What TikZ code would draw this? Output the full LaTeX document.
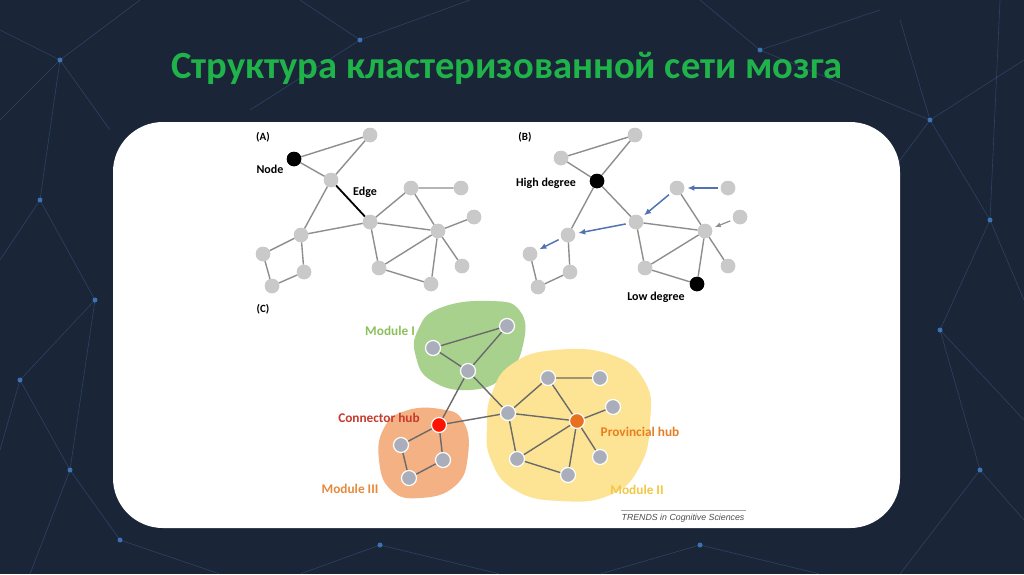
\documentclass[tikz,border=0pt]{standalone}
\usepackage{fontspec}
\setmainfont{Carlito}
\newfontfamily\arialf{Liberation Sans}
\usetikzlibrary{arrows.meta}
\definecolor{bgc}{HTML}{1A2538}
\definecolor{bgline}{HTML}{3C5A86}
\definecolor{glow}{HTML}{4A8FE0}
\definecolor{titleg}{HTML}{1FB34A}
\definecolor{gnode}{HTML}{C9C9C9}
\definecolor{gedge}{HTML}{8E8E8E}
\definecolor{cnode}{HTML}{A9AEBA}
\definecolor{cedge}{HTML}{6A6A6A}
\definecolor{arrb}{HTML}{4F74B0}
\definecolor{modI}{HTML}{A9D18E}
\definecolor{modII}{HTML}{FDE494}
\definecolor{modIII}{HTML}{F4B183}
\definecolor{labI}{HTML}{8DC05C}
\definecolor{labII}{HTML}{F2C744}
\definecolor{labIII}{HTML}{E58A3C}
\definecolor{labhub}{HTML}{C8392C}
\definecolor{labprov}{HTML}{E67E22}
\begin{document}
\begin{tikzpicture}[x=1pt,y=-1pt,
  gn/.style={circle,fill=gnode,inner sep=0pt,minimum size=14.5pt},
  bn/.style={circle,fill=black,inner sep=0pt,minimum size=14.5pt},
  cn/.style={circle,fill=cnode,draw=white,line width=1.2pt,inner sep=0pt,minimum size=15pt},
  ge/.style={draw=gedge,line width=1.4pt},
  ce/.style={draw=cedge,line width=1.4pt},
  barr/.style={draw=arrb,line width=1.5pt,-{Latex[length=7pt,width=6pt]},shorten >=3pt,shorten <=3pt},
  garr/.style={draw=gedge,line width=1.2pt,-{Latex[length=6pt,width=5pt]},shorten >=3pt,shorten <=3pt},
  lab/.style={font=\bfseries\fontsize{12}{14}\selectfont,inner sep=0pt},
  mlab/.style={font=\bfseries\fontsize{13.3}{15}\selectfont,inner sep=0pt}]
\useasboundingbox (0,0) rectangle (1024,574);
% background
\fill[bgc] (0,0) rectangle (1024,574);
\begin{scope}[draw=bgline,line width=0.6pt,opacity=0.55]
\draw (0,120)--(60,60)--(140,0);
\draw (60,60)--(40,200)--(0,260);
\draw (40,200)--(95,300)--(20,380)--(0,450);
\draw (95,300)--(70,470)--(30,574);
\draw (70,470)--(120,540)--(220,574);
\draw (20,380)--(70,470);
\draw (0,30)--(60,60)--(110,130);
\draw (300,0)--(360,40)--(470,0);
\draw (360,40)--(250,110);
\draw (700,0)--(760,50)--(880,10);
\draw (760,50)--(930,120)--(1024,60);
\draw (930,120)--(990,220)--(1024,300);
\draw (990,220)--(940,330)--(1024,420);
\draw (940,330)--(980,470)--(1024,520);
\draw (980,470)--(900,574);
\draw (900,20)--(930,120);
\draw (1000,0)--(990,220);
\draw (930,120)--(870,200);
\draw (600,574)--(700,545)--(820,574);
\draw (300,574)--(380,545)--(500,574);
\end{scope}
\foreach \p in {(60,60),(40,200),(95,300),(20,380),(70,470),(360,40),(760,50),(930,120),(990,220),(940,330),(980,470),(700,545),(380,545),(120,540)}
  \fill[glow,opacity=0.7] \p circle (2.5pt);
% title
\node[font=\bfseries\fontsize{38.5}{44}\selectfont,text=titleg,inner sep=0pt] (title) at (507,68) {Структура кластеризованной сети мозга};
% white panel
\fill[white,rounded corners=50pt] (113,122) rectangle (900,528);
% ---------- Panel A ----------
\node[lab,font=\bfseries\fontsize{11}{13}\selectfont] (la) at (263,137) {(A)};
\node[gn] (a1) at (370,135) {};
\node[bn] (a2) at (294,159) {};
\node[gn] (a3) at (331,180) {};
\node[gn] (a4) at (370,222) {};
\node[gn] (a5) at (411,188) {};
\node[gn] (a6) at (461,188) {};
\node[gn] (a7) at (438,231) {};
\node[gn] (a8) at (474,217) {};
\node[gn] (a9) at (462,266) {};
\node[gn] (a10) at (379,268) {};
\node[gn] (a11) at (431,284) {};
\node[gn] (a12) at (301,235) {};
\node[gn] (a13) at (263,254) {};
\node[gn] (a14) at (304,272) {};
\node[gn] (a15) at (272,286) {};
\node[lab] (nodel) at (270,169) {Node};
\node[lab] (edgel) at (365,192) {Edge};
\draw[ge] (a2)--(a1) (a2)--(a3) (a3)--(a1) (a3)--(a12) (a4)--(a12) (a4)--(a5)
  (a5)--(a6) (a5)--(a7) (a4)--(a7) (a7)--(a8) (a7)--(a9) (a7)--(a10) (a7)--(a11)
  (a4)--(a10) (a10)--(a11) (a12)--(a13) (a12)--(a14) (a13)--(a15) (a15)--(a14);
\draw[black,line width=1.8pt] (a3)--(a4);
% ---------- Panel B ----------
\node[lab,font=\bfseries\fontsize{11}{13}\selectfont] (lb) at (525,137) {(B)};
\node[gn] (b1) at (635,135) {};
\node[gn] (b2) at (561,158) {};
\node[bn] (b3) at (597,181) {};
\node[gn] (b4) at (636,222) {};
\node[gn] (b5) at (677,188) {};
\node[gn] (b6) at (728,188) {};
\node[gn] (b7) at (705,231) {};
\node[gn] (b8) at (740,217) {};
\node[gn] (b9) at (728,266) {};
\node[gn] (b10) at (645,268) {};
\node[bn] (b11) at (697,284) {};
\node[gn] (b12) at (568,235) {};
\node[gn] (b13) at (530,254) {};
\node[gn] (b14) at (570,272) {};
\node[gn] (b15) at (538,287) {};
\node[lab] (highl) at (546,183) {High degree};
\node[lab] (lowl) at (656,297) {Low degree};
\draw[ge] (b2)--(b1) (b2)--(b3) (b3)--(b1) (b3)--(b12) (b3)--(b4) (b4)--(b7)
  (b5)--(b7) (b7)--(b9) (b7)--(b10) (b7)--(b11) (b4)--(b10) (b10)--(b11)
  (b12)--(b14) (b13)--(b15) (b15)--(b14);
\draw[barr] (b6)--(b5);
\draw[barr] (b5)--(b4);
\draw[barr] (b4)--(b12);
\draw[barr] (b12)--(b13);
\draw[garr] (b8)--(b7);
% ---------- Panel C ----------
\node[lab,font=\bfseries\fontsize{11}{13}\selectfont] (lc) at (263,309) {(C)};
\fill[modI] plot[smooth cycle,tension=0.8] coordinates {(418,330) (440,308) (490,301) (520,311) (523,345) (505,376) (470,390) (432,381) (416,357)};
\fill[modII] plot[smooth cycle,tension=0.8] coordinates {(492,393) (512,364) (555,350) (612,355) (645,382) (650,422) (640,466) (610,495) (560,501) (515,490) (491,460) (487,425)};
\fill[modIII] plot[smooth cycle,tension=0.8] coordinates {(384,428) (405,411) (440,409) (463,421) (468,455) (455,486) (420,498) (391,490) (379,460)};
\coordinate (c1) at (433,348);
\coordinate (c2) at (507,326);
\coordinate (c3) at (468,371);
\coordinate (c4) at (439,425);
\coordinate (c5) at (401,445);
\coordinate (c6) at (443,460);
\coordinate (c7) at (409,478);
\coordinate (d1) at (508,413);
\coordinate (d2) at (548,378);
\coordinate (d3) at (600,378);
\coordinate (d4) at (577,421);
\coordinate (d5) at (613,407);
\coordinate (d6) at (600,457);
\coordinate (d7) at (568,475);
\coordinate (d8) at (517,459);
\draw[ce] (c1)--(c2) (c1)--(c3) (c2)--(c3) (c3)--(c4) (c3)--(d1) (c4)--(d1)
  (c4)--(c5) (c4)--(c6) (c5)--(c7) (c7)--(c6)
  (d1)--(d2) (d2)--(d3) (d2)--(d4) (d1)--(d4) (d1)--(d8) (d4)--(d5) (d4)--(d6)
  (d4)--(d7) (d4)--(d8) (d8)--(d7);
\foreach \n in {c1,c2,c3,c5,c6,c7,d1,d2,d3,d5,d6,d7,d8}
  \node[cn] (n\n) at (\n) {};
\node[cn,fill=red!85!orange] (nc4) at (c4) {};
\node[cn,fill=labprov!90!red] (nd4) at (d4) {};
% redraw A/B nodes on top of edges
\foreach \n in {a1,a3,a4,a5,a6,a7,a8,a9,a10,a11,a12,a13,a14,a15,b1,b2,b4,b5,b6,b7,b8,b9,b10,b12,b13,b14,b15}
  \node[gn] at (\n) {};
\node[bn] at (a2) {};
\node[bn] at (b3) {};
\node[bn] at (b11) {};
\node[mlab,text=labI] (lm1) at (390,331) {Module I};
\node[mlab,text=labhub] (lhub) at (379,418) {Connector hub};
\node[mlab,text=labIII] (lm3) at (350,489) {Module III};
\node[mlab,text=labprov] (lprov) at (640,432) {Provincial hub};
\node[mlab,text=labII] (lm2) at (637,490) {Module II};
% source
\draw[gray!70,line width=0.6pt] (621,510)--(746,510);
\node[font=\arialf\itshape\fontsize{8.8}{10}\selectfont,text=gray!60!black,inner sep=0pt] (src) at (683,518) {TRENDS in Cognitive Sciences};
\end{tikzpicture}
\end{document}
